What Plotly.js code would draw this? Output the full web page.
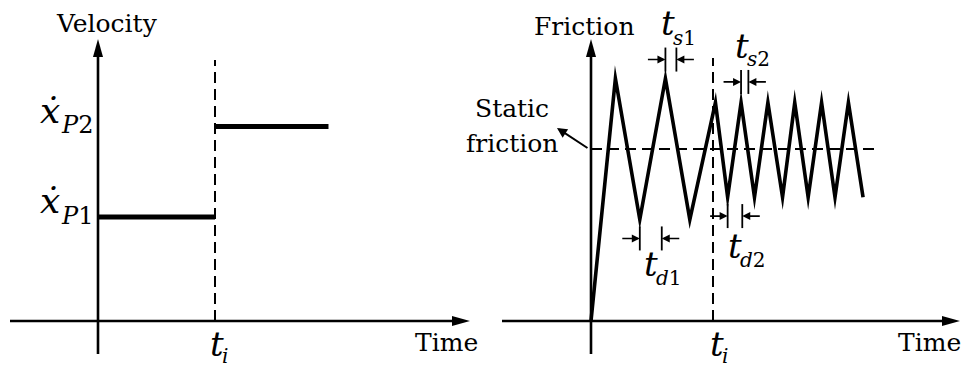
<!DOCTYPE html>
<html>
<head>
<meta charset="utf-8">
<script src="https://cdn.plot.ly/plotly-3.0.1.min.js"></script>
<style>
  html, body { margin: 0; padding: 0; background: #fff; }
  #chart { width: 962px; height: 368px; }
  .scatterlayer .js-line { stroke-linejoin: miter !important; stroke-miterlimit: 8 !important; }
</style>
</head>
<body>
<div id="chart"></div>
<script>
// ---- Left panel: commanded velocity, stepped at t_i ----
const velocityTimes = [0, 1.0, 1.97];   // start, switching time t_i, end of profile
const velocityLevels = [1.0, 1.87];     // x_P1 before t_i, x_P2 after t_i

// ---- Right panel: friction response (stick-slip saw-tooth) ----
const frictionTimes  = [0, 0.20, 0.40, 0.61, 0.81, 1.02, 1.12, 1.23, 1.34, 1.45, 1.57, 1.67, 1.78, 1.89, 2.00, 2.11, 2.23];
const frictionValues = [0, 1.41, 0.59, 1.41, 0.59, 1.27, 0.72, 1.27, 0.72, 1.27, 0.72, 1.27, 0.72, 1.27, 0.72, 1.27, 0.72];
const switchTime = 1.0;
const staticFriction = 1.0;
const staticLineEnd = 2.34;

// Dimensioned intervals: stick (s) and drop (d) times before / after t_i
const spanNames  = ['s1', 's2', 'd1', 'd2'];
const spanStarts = [0.61, 1.23, 0.40, 1.12];
const spanWidths = [0.09, 0.06, 0.18, 0.12];
const spanLevels = [1.52, 1.39, 0.48, 0.61];

// ---- geometry of the two panels (pixel origin + pixels per unit) ----
const W = 962, H = 368;
const FONT = 'DejaVu Serif';
const INK = '#000';
const L = { ox: 98, oy: 321, kx: 117, ky: 104, x0: 0, x1: 481 };
const R = { ox: 591, oy: 321, kx: 122, ky: 172, x0: 481, x1: 962 };
const ux = (p, px) => (px - p.ox) / p.kx;
const uy = (p, py) => (p.oy - py) / p.ky;

// ---- traces ----
const dashStyle = { color: INK, width: 2, dash: '11px,6px' };
const traces = [
  { x: [switchTime, switchTime], y: [0, uy(L, 60)], xaxis: 'x', yaxis: 'y', mode: 'lines', line: dashStyle },
  { x: [velocityTimes[0], velocityTimes[1]], y: [velocityLevels[0], velocityLevels[0]], xaxis: 'x', yaxis: 'y',
    mode: 'lines', line: { color: INK, width: 5 } },
  { x: [velocityTimes[1], velocityTimes[2]], y: [velocityLevels[1], velocityLevels[1]], xaxis: 'x', yaxis: 'y',
    mode: 'lines', line: { color: INK, width: 5 } },
  { x: [switchTime, switchTime], y: [0, uy(R, 58)], xaxis: 'x2', yaxis: 'y2', mode: 'lines', line: dashStyle },
  { x: [0, staticLineEnd], y: [staticFriction, staticFriction], xaxis: 'x2', yaxis: 'y2', mode: 'lines', line: dashStyle },
  { x: frictionTimes, y: frictionValues, xaxis: 'x2', yaxis: 'y2', mode: 'lines', line: { color: INK, width: 3.6 } }
];

// ---- axes with arrow heads ----
function axisHead(xref, yref, x, y, dir) {
  const len = 18, half = 5;
  const path = dir === 'up'
    ? `M0,0 L${-half},${-len} L${half},${-len} Z`
    : `M0,0 L${-len},${half} L${-len},${-half} Z`;
  return { type: 'path', xref, yref, xsizemode: 'pixel', ysizemode: 'pixel', xanchor: x, yanchor: y,
           path, fillcolor: INK, line: { width: 0 } };
}
function seg(xref, yref, x0, y0, x1, y1, w) {
  return { type: 'line', xref, yref, x0, y0, x1, y1, line: { color: INK, width: w } };
}
const shapes = [];
[[L, 'x', 'y', 10, 470], [R, 'x2', 'y2', 502, 960]].forEach(([p, xr, yr, xs, xe]) => {
  shapes.push(seg(xr, yr, ux(p, xs), 0, ux(p, xe - 10), 0, 2.6));
  shapes.push(axisHead(xr, yr, ux(p, xe), 0, 'right'));
  shapes.push(seg(xr, yr, 0, uy(p, 354), 0, uy(p, 49), 2.6));
  shapes.push(axisHead(xr, yr, 0, uy(p, 39), 'up'));
});

// interval ticks + inward-pointing arrows
const annotations = [];
const tickHalf = 12 / R.ky;
spanNames.forEach((n, i) => {
  const a = spanStarts[i], b = spanStarts[i] + spanWidths[i], lv = spanLevels[i];
  shapes.push(seg('x2', 'y2', a, lv - tickHalf, a, lv + tickHalf, 1.8));
  shapes.push(seg('x2', 'y2', b, lv - tickHalf, b, lv + tickHalf, 1.8));
  [[a, -19], [b, 19]].forEach(([x, off]) => annotations.push({
    xref: 'x2', yref: 'y2', x, y: lv, ax: off, ay: 0, text: '', showarrow: true,
    arrowhead: 2, arrowsize: 1, arrowwidth: 1.6, arrowcolor: INK, standoff: 0
  }));
});

// "Static friction" pointer
annotations.push({
  xref: 'x2', yref: 'y2', x: ux(R, 557), y: uy(R, 128), axref: 'x2', ayref: 'y2',
  ax: ux(R, 589), ay: staticFriction, text: '', showarrow: true,
  arrowhead: 2, arrowsize: 1, arrowwidth: 2, arrowcolor: INK, standoff: 0
});

// ---- text ----
function label(px, baseline, text, size, anchor) {
  return { xref: 'paper', yref: 'paper', x: px / W, y: 1 - (baseline - 0.346 * size) / H,
           xanchor: anchor || 'center', yanchor: 'middle', text, showarrow: false,
           borderpad: 0, borderwidth: 0, font: { family: FONT, size, color: INK } };
}
function symbol(px, baseline, base, sub, subPx, subBaseline, size, subSize) {
  annotations.push(label(px, baseline, `<i>${base}</i>`, size, 'left'));
  annotations.push(label(subPx, subBaseline, sub, subSize, 'left'));
}
const TXT = 25;
annotations.push(label(107, 32, 'Velocity', TXT));
annotations.push(label(446, 351, 'Time', TXT));
annotations.push(label(584, 35, 'Friction', TXT));
annotations.push(label(512, 117, 'Static', TXT));
annotations.push(label(512, 152, 'friction', TXT));
annotations.push(label(929, 351, 'Time', TXT));

const T = 34, TS = 20;
symbol(40, 123, '\u1E8B', '<i>P</i>2', 61, 133, 36, 24);
symbol(40, 213, '\u1E8B', '<i>P</i>1', 61, 224, 36, 24);
symbol(210, 356, 't', '<i>i</i>', 222, 363, T, TS);
symbol(710, 356, 't', '<i>i</i>', 722, 363, T, TS);
symbol(661, 35, 't', '<i>s</i>1', 673, 45, T, TS);
symbol(735, 58, 't', '<i>s</i>2', 747, 66, T, TS);
symbol(644, 276, 't', '<i>d</i>1', 656, 285, T, TS);
symbol(728, 258, 't', '<i>d</i>2', 740, 267, T, TS);

const hidden = { visible: false, fixedrange: true };
const layout = {
  width: W, height: H, margin: { l: 0, r: 0, t: 0, b: 0 },
  font: { family: FONT, color: INK },
  paper_bgcolor: '#fff', plot_bgcolor: 'rgba(0,0,0,0)', showlegend: false,
  xaxis:  Object.assign({ domain: [L.x0 / W, L.x1 / W], range: [ux(L, L.x0), ux(L, L.x1)] }, hidden),
  yaxis:  Object.assign({ domain: [0, 1], range: [uy(L, H), uy(L, 0)], anchor: 'x' }, hidden),
  xaxis2: Object.assign({ domain: [R.x0 / W, R.x1 / W], range: [ux(R, R.x0), ux(R, R.x1)], anchor: 'y2' }, hidden),
  yaxis2: Object.assign({ domain: [0, 1], range: [uy(R, H), uy(R, 0)], anchor: 'x2' }, hidden),
  shapes, annotations
};
traces.forEach(t => { t.hoverinfo = 'skip'; t.cliponaxis = false; });
Plotly.newPlot('chart', traces, layout, { displayModeBar: false, staticPlot: true });
</script>
</body>
</html>
